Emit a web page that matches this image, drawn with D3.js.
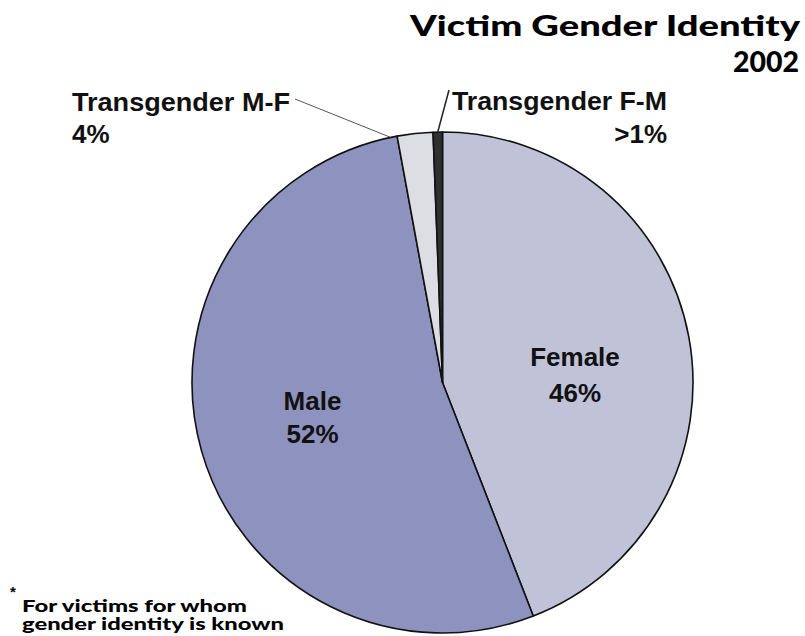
<!DOCTYPE html>
<html><head><meta charset="utf-8">
<script src="https://cdn.jsdelivr.net/npm/d3@7"></script>
<style>body{margin:0;background:#fff}svg{display:block}</style>
</head><body>
<svg id="c" width="805" height="636"></svg>
<script>
const categories = ["Female", "Male", "Transgender M-F", "Transgender F-M"];
const values = [44.1, 53.0, 2.3, 0.6];
const pctLabels = ["46%", "52%", "4%", ">1%"];
const titleLines = ["Victim Gender Identity", "2002"];
const footLines = ["For victims for whom", "gender identity is known"];
const colors = ["#c0c2d8", "#8e92be", "#dcdee4", "#303030"];

const svg = d3.select("#c");
const cx = 442.5, cy = 382.5, R = 250.5;
const font = "'Liberation Sans', Arial, sans-serif";
const heavy = "Lato, 'DejaVu Sans', sans-serif";

const pie = d3.pie().sort(null).value(d => d)(values);
const arc = d3.arc().innerRadius(0).outerRadius(R);
const g = svg.append("g").attr("transform", `translate(${cx},${cy})`);
g.selectAll("path").data(pie).join("path")
  .attr("d", arc)
  .attr("fill", (d, i) => colors[i])
  .attr("stroke", "#111").attr("stroke-width", 1.6).attr("stroke-linejoin", "round");

function label(lines, x, y, anchor, size, gap) {
  const t = svg.append("text").attr("text-anchor", anchor)
    .attr("font-family", font).attr("font-weight", "bold").attr("font-size", size).attr("fill", "#111");
  lines.forEach((s, k) => t.append("tspan").attr("x", x).attr("y", y + k * gap).text(s));
  return t;
}

// inside labels
label([categories[0], pctLabels[0]], 575, 366, "middle", 26, 36);
label([categories[1], pctLabels[1]], 312.5, 410, "middle", 26, 33);

// outside label M-F
const a2 = pie[2].startAngle;
svg.append("line")
  .attr("x1", 295).attr("y1", 99)
  .attr("x2", cx + Math.sin(a2) * R - 7).attr("y2", cy - Math.cos(a2) * R + 1)
  .attr("stroke", "#555").attr("stroke-width", 1);
label([categories[2], pctLabels[2]], 72, 111, "start", 26, 32)
  .select("tspan").attr("textLength", 218).attr("lengthAdjust", "spacingAndGlyphs");

// outside label F-M
const mid3 = (pie[3].startAngle + pie[3].endAngle) / 2;
svg.append("line")
  .attr("x1", 449).attr("y1", 90)
  .attr("x2", cx + Math.sin(mid3) * R).attr("y2", cy - Math.cos(mid3) * R)
  .attr("stroke", "#222").attr("stroke-width", 1.5);
const t3 = label([categories[3], pctLabels[3]], 667, 110, "end", 26, 33);
t3.select("tspan").attr("textLength", 215).attr("lengthAdjust", "spacingAndGlyphs");

// title
const tt = svg.append("text").attr("font-family", heavy).attr("font-weight", 900)
  .attr("font-size", 28).attr("fill", "#000");
tt.append("tspan").attr("x", 410).attr("y", 36).attr("textLength", 390)
  .attr("lengthAdjust", "spacingAndGlyphs").text(titleLines[0]);
tt.append("tspan").attr("x", 733).attr("y", 72).attr("textLength", 66)
  .attr("lengthAdjust", "spacingAndGlyphs").text(titleLines[1]);

// footnote
svg.append("text").attr("x", 10).attr("y", 597).attr("font-family", font).attr("font-weight", "bold")
  .attr("font-size", 15).text("*");
const fn = svg.append("text").attr("font-family", heavy).attr("font-weight", 900)
  .attr("font-size", 16).attr("fill", "#000");
fn.append("tspan").attr("x", 22).attr("y", 612).attr("textLength", 225)
  .attr("lengthAdjust", "spacingAndGlyphs").text(footLines[0]);
fn.append("tspan").attr("x", 22).attr("y", 630).attr("textLength", 262)
  .attr("lengthAdjust", "spacingAndGlyphs").text(footLines[1]);
</script>
</body></html>
